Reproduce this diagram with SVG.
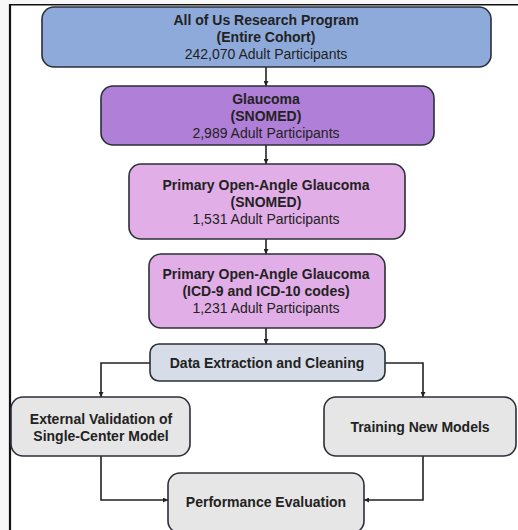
<svg xmlns="http://www.w3.org/2000/svg" width="518" height="530" viewBox="0 0 518 530">
  <style>
    .box { stroke: #2b2f36; stroke-width: 1.6; }
    .t { font-family: "Liberation Sans", Arial, sans-serif; font-size: 14px; fill: #222; text-anchor: middle; }
    .b { font-weight: bold; }
    .wire { fill: none; stroke: #222; stroke-width: 1.6; }
  </style>
  <defs>
    <marker id="arrow" viewBox="0 0 10 10" refX="10" refY="5" markerWidth="5" markerHeight="5" orient="auto" markerUnits="userSpaceOnUse">
      <path d="M0,0 L10,5 L0,10 Z" fill="#222"/>
    </marker>
  </defs>

  <!-- page and frame -->
  <rect x="0" y="0" width="518" height="530" fill="#f7f7f7"/>
  <rect x="10" y="5" width="508" height="525" fill="#ffffff"/>
  <line x1="10" y1="4.8" x2="518" y2="4.8" stroke="#111" stroke-width="1.5"/>
  <line x1="10" y1="4" x2="10" y2="530" stroke="#111" stroke-width="2.2"/>

  <!-- connectors -->
  <g id="connectors">
    <line class="wire" x1="266" y1="67" x2="266" y2="86" marker-end="url(#arrow)"/>
    <line class="wire" x1="266" y1="145" x2="266" y2="164" marker-end="url(#arrow)"/>
    <line class="wire" x1="266" y1="239" x2="266" y2="254" marker-end="url(#arrow)"/>
    <line class="wire" x1="266" y1="328" x2="266" y2="344" marker-end="url(#arrow)"/>
    <polyline class="wire" points="150,363 101,363 101,397" marker-end="url(#arrow)"/>
    <polyline class="wire" points="385,363 423,363 423,397" marker-end="url(#arrow)"/>
    <polyline class="wire" points="101,456 101,500 168,500" marker-end="url(#arrow)"/>
    <polyline class="wire" points="423,456 423,500 364,500" marker-end="url(#arrow)"/>
  </g>

  <g id="cohort">
    <rect class="box" x="42" y="7" width="449" height="60" rx="12" fill="#8eaadb"/>
    <text class="t b" x="266" y="25">All of Us Research Program</text>
    <text class="t b" x="266" y="42">(Entire Cohort)</text>
    <text class="t" x="266" y="59">242,070 Adult Participants</text>
  </g>

  <g id="glaucoma">
    <rect class="box" x="101" y="86" width="333" height="59" rx="12" fill="#b07fd7"/>
    <text class="t b" x="266" y="104">Glaucoma</text>
    <text class="t b" x="266" y="121">(SNOMED)</text>
    <text class="t" x="266" y="138">2,989 Adult Participants</text>
  </g>

  <g id="poag-snomed">
    <rect class="box" x="129" y="164" width="276" height="75" rx="12" fill="#e2aee8"/>
    <text class="t b" x="266" y="190">Primary Open-Angle Glaucoma</text>
    <text class="t b" x="266" y="207">(SNOMED)</text>
    <text class="t" x="266" y="224">1,531 Adult Participants</text>
  </g>

  <g id="poag-icd">
    <rect class="box" x="149" y="254" width="236" height="74" rx="12" fill="#e2aee8"/>
    <text class="t b" x="266" y="279">Primary Open-Angle Glaucoma</text>
    <text class="t b" x="266" y="296">(ICD-9 and ICD-10 codes)</text>
    <text class="t" x="266" y="313">1,231 Adult Participants</text>
  </g>

  <g id="data-cleaning">
    <rect class="box" x="150" y="344" width="235" height="37" rx="9" fill="#d6dde8"/>
    <text class="t b" x="267" y="368">Data Extraction and Cleaning</text>
  </g>

  <g id="external-validation">
    <rect class="box" x="11" y="397" width="179" height="59" rx="12" fill="#e6e6e6"/>
    <text class="t b" x="101" y="424">External Validation of</text>
    <text class="t b" x="101" y="441">Single-Center Model</text>
  </g>

  <g id="training">
    <rect class="box" x="324" y="397" width="192" height="59" rx="12" fill="#e6e6e6"/>
    <text class="t b" x="420" y="432">Training New Models</text>
  </g>

  <g id="performance">
    <rect class="box" x="168" y="473" width="196" height="60" rx="12" fill="#e6e6e6"/>
    <text class="t b" x="266" y="507">Performance Evaluation</text>
  </g>
</svg>
